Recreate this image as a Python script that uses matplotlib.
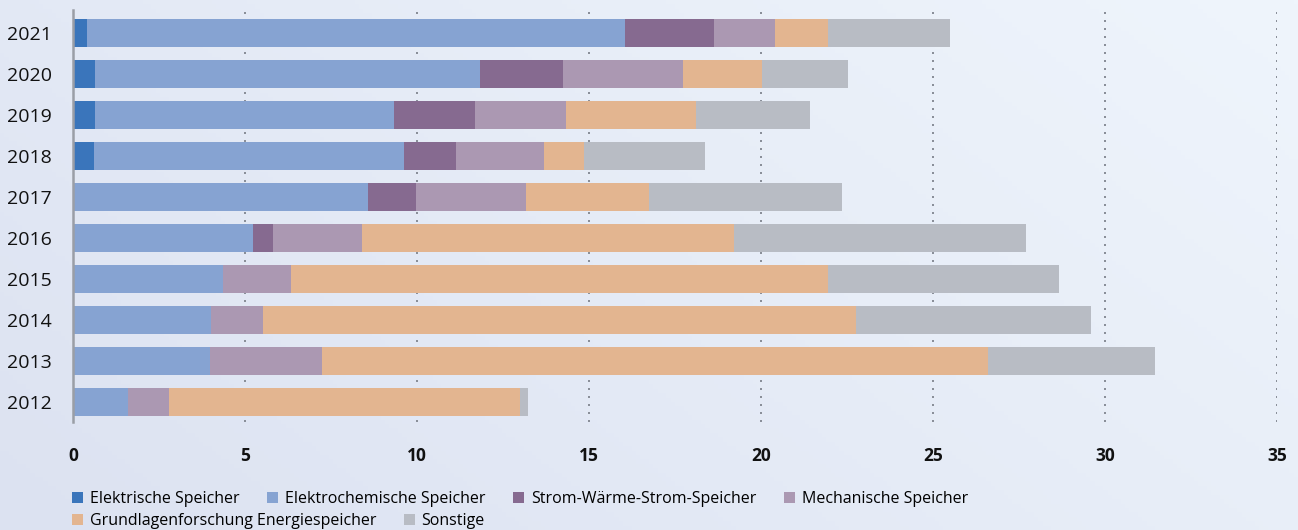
import numpy as np
import matplotlib
matplotlib.use("Agg")
import matplotlib.pyplot as plt
from matplotlib.patches import Patch

years = ["2012", "2013", "2014", "2015", "2016", "2017", "2018", "2019", "2020", "2021"]
series_names = ["Elektrische Speicher", "Elektrochemische Speicher", "Strom-Wärme-Strom-Speicher",
                "Mechanische Speicher", "Grundlagenforschung Energiespeicher", "Sonstige"]
elektrische = [0, 0, 0, 0, 0, 0, 0.62, 0.65, 0.65, 0.42]
elektrochemische = [1.60, 3.97, 4.00, 4.37, 5.24, 8.58, 9.01, 8.69, 11.19, 15.64]
strom_waerme = [0, 0, 0, 0, 0.58, 1.40, 1.51, 2.35, 2.41, 2.58]
mechanische = [1.20, 3.28, 1.53, 1.98, 2.59, 3.20, 2.56, 2.65, 3.49, 1.78]
grundlagen = [10.20, 19.36, 17.22, 15.60, 10.81, 3.57, 1.16, 3.77, 2.30, 1.53]
sonstige = [0.24, 4.85, 6.85, 6.72, 8.49, 5.61, 3.52, 3.32, 2.50, 3.55]
x_ticks = [0, 5, 10, 15, 20, 25, 30, 35]

colors = ["#3a75bb", "#86a3d2", "#866a90", "#ab98b2", "#e3b590", "#b8bcc4"]
FONT = "Open Sans"

fig = plt.figure(figsize=(12.98, 5.30), dpi=100)

# background gradient
bg = fig.add_axes([0, 0, 1, 1], zorder=-10)
gx, gy = np.meshgrid(np.linspace(0, 1, 300), np.linspace(0, 1, 120))
t = np.clip(0.65 * gx + 0.35 * gy, 0, 1)
c0 = np.array([0xdc, 0xe2, 0xf1]) / 255
c1 = np.array([0xef, 0xf5, 0xfc]) / 255
img = c0[None, None, :] * (1 - t[..., None]) + c1[None, None, :] * t[..., None]
bg.imshow(img, origin="lower", aspect="auto", extent=[0, 1, 0, 1])
bg.axis("off")

ax = fig.add_axes([73 / 1298, (530 - 422) / 530, (1277 - 73) / 1298, (422 - 10) / 530])
ax.set_facecolor("none")

series = [elektrische, elektrochemische, strom_waerme, mechanische, grundlagen, sonstige]
ypos = np.arange(len(years))
left = np.zeros(len(years))
for vals, col, name in zip(series, colors, series_names):
    vals = np.array(vals)
    ax.barh(ypos, vals, left=left, height=0.68, color=col, label=name, zorder=3, linewidth=0)
    left += vals

ax.set_xlim(0, 35)
ax.set_ylim(-0.49, 9.56)
ax.set_xticks(x_ticks)
ax.set_xticklabels([str(v) for v in x_ticks], fontfamily=FONT, fontweight="bold", fontsize=12.5, color="#111111")
ax.set_yticks(ypos)
ax.set_yticklabels(years, fontfamily=FONT, fontsize=14, color="#111111")
ax.tick_params(axis="both", length=0)
ax.tick_params(axis="y", pad=15)
ax.tick_params(axis="x", pad=18)

for xv in x_ticks[1:]:
    ax.axvline(xv, color="#8a8f99", linewidth=1.44, linestyle=(0, (1, 3)), zorder=1)

for s in ["top", "right", "bottom"]:
    ax.spines[s].set_visible(False)
ax.spines["left"].set_color("#9a9ea6")
ax.spines["left"].set_linewidth(1.8)
ax.spines["left"].set_zorder(4)

handles = [Patch(facecolor=c, edgecolor="none") for c in colors]
leg_kw = dict(frameon=False, handlelength=0.68, handleheight=0.68, handletextpad=0.42,
              columnspacing=1.75, borderaxespad=0, borderpad=0,
              prop={"family": FONT, "size": 11.5})
fig.legend(handles[:4], series_names[:4], ncol=4, loc="center left",
           bbox_to_anchor=(72 / 1298, 1 - 499 / 530), **leg_kw)
fig.legend(handles[4:], series_names[4:], ncol=2, loc="center left",
           bbox_to_anchor=(72 / 1298, 1 - 521 / 530), **leg_kw)

fig.savefig("out.png", dpi=100)
